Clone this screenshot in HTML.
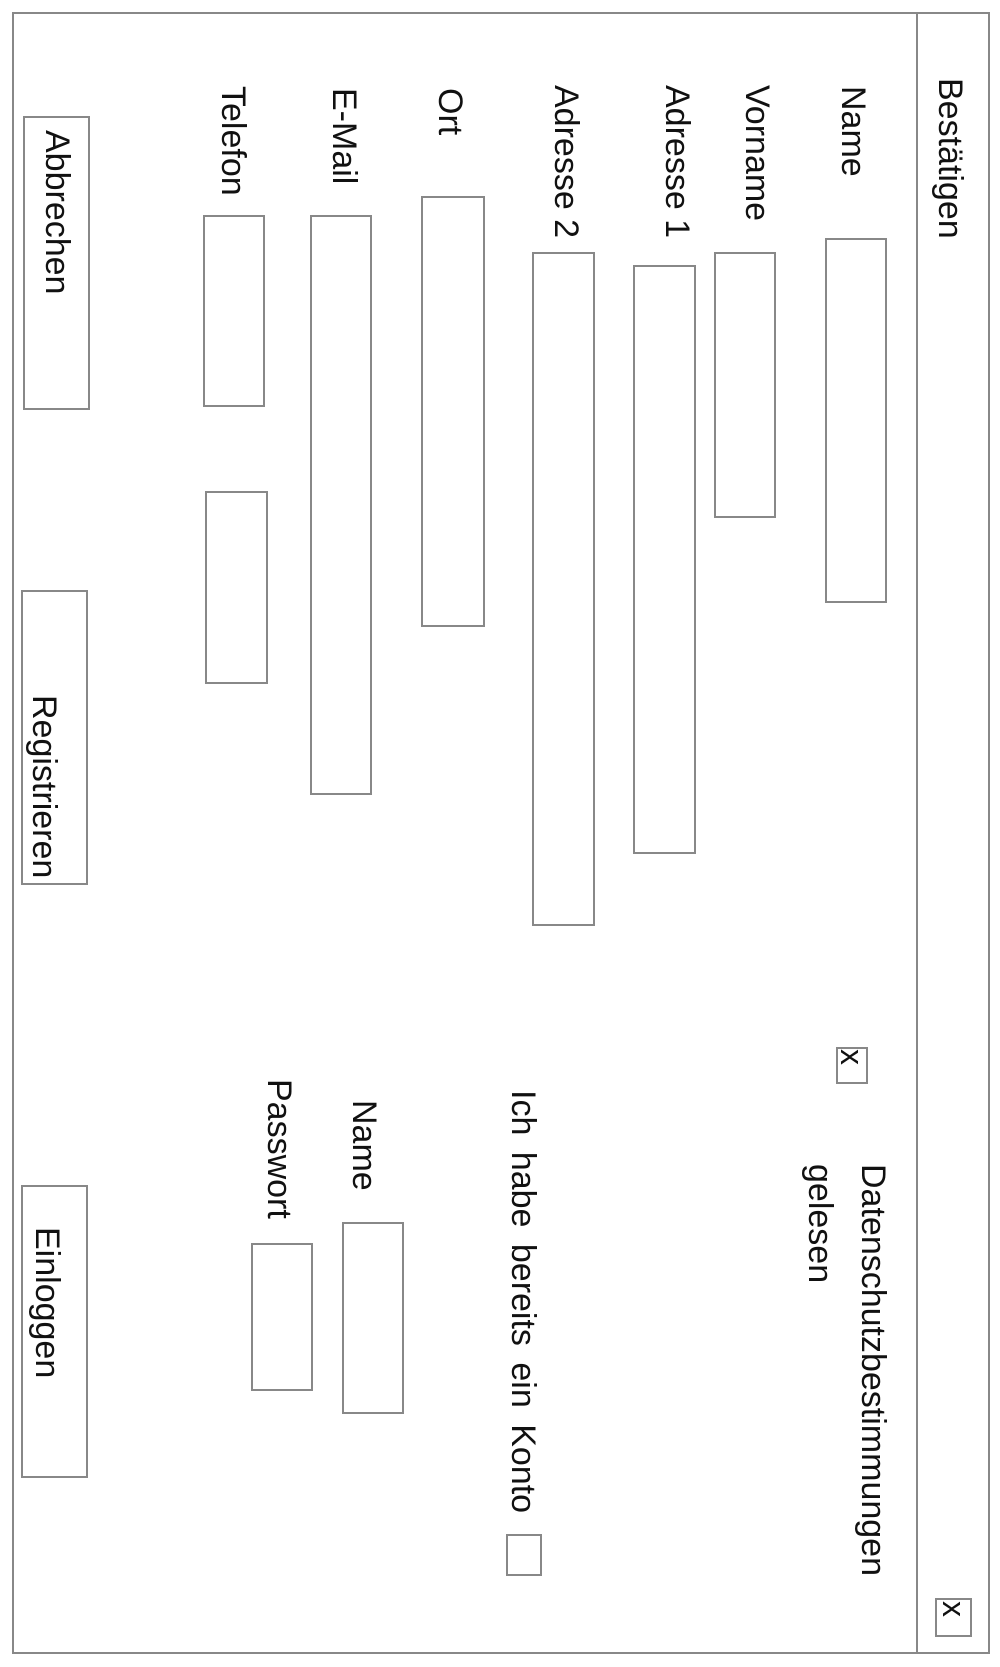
<!DOCTYPE html>
<html><head><meta charset="utf-8"><style>
html,body{margin:0;padding:0;background:#fff;}
body{width:1000px;height:1667px;position:relative;overflow:hidden;font-family:"Liberation Sans",sans-serif;}
.b{position:absolute;border:2px solid #888;box-sizing:border-box;background:#fff;}
.t{position:absolute;writing-mode:vertical-rl;font-size:34px;line-height:38px;color:#111;white-space:nowrap;}
</style></head><body>
<div class="b" style="left:12px;top:12px;width:978px;height:1642px;"></div>
<div class="b" style="left:916px;top:12px;width:74px;height:1642px;"></div>
<div class="t" style="left:931px;top:78px;">Bestätigen</div>
<div class="b" style="left:935px;top:1598px;width:37px;height:39px;"></div>
<div class="t" style="left:935px;top:1601px;font-size:32px;">x</div>

<div class="t" style="left:834px;top:86px;">Name</div>
<div class="b" style="left:825px;top:238px;width:62px;height:365px;"></div>
<div class="t" style="left:738px;top:85px;">Vorname</div>
<div class="b" style="left:714px;top:252px;width:62px;height:266px;"></div>
<div class="t" style="left:658px;top:85px;">Adresse 1</div>
<div class="b" style="left:633px;top:265px;width:63px;height:589px;"></div>
<div class="t" style="left:547px;top:85px;">Adresse 2</div>
<div class="b" style="left:532px;top:252px;width:63px;height:674px;"></div>
<div class="t" style="left:431px;top:88px;">Ort</div>
<div class="b" style="left:421px;top:196px;width:64px;height:431px;"></div>
<div class="t" style="left:325px;top:88px;">E-Mail</div>
<div class="b" style="left:310px;top:215px;width:62px;height:580px;"></div>
<div class="t" style="left:214px;top:86px;">Telefon</div>
<div class="b" style="left:203px;top:215px;width:62px;height:192px;"></div>
<div class="b" style="left:205px;top:491px;width:63px;height:193px;"></div>

<div class="b" style="left:23px;top:116px;width:67px;height:294px;"></div>
<div class="t" style="left:38px;top:130px;">Abbrechen</div>
<div class="b" style="left:21px;top:590px;width:67px;height:295px;"></div>
<div class="t" style="left:25px;top:695px;">Registrieren</div>
<div class="b" style="left:21px;top:1185px;width:67px;height:293px;"></div>
<div class="t" style="left:28px;top:1227px;">Einloggen</div>

<div class="b" style="left:836px;top:1047px;width:32px;height:37px;"></div>
<div class="t" style="left:833px;top:1049px;font-size:32px;">x</div>
<div class="t" style="left:793px;top:1164px;line-height:53px;">Datenschutzbestimmungen<br>gelesen</div>
<div class="t" style="left:504px;top:1090px;word-spacing:7px;">Ich habe bereits ein Konto</div>
<div class="b" style="left:506px;top:1534px;width:36px;height:42px;"></div>
<div class="t" style="left:345px;top:1100px;">Name</div>
<div class="b" style="left:342px;top:1222px;width:62px;height:192px;"></div>
<div class="t" style="left:260px;top:1079px;">Passwort</div>
<div class="b" style="left:251px;top:1243px;width:62px;height:148px;"></div>
</body></html>
